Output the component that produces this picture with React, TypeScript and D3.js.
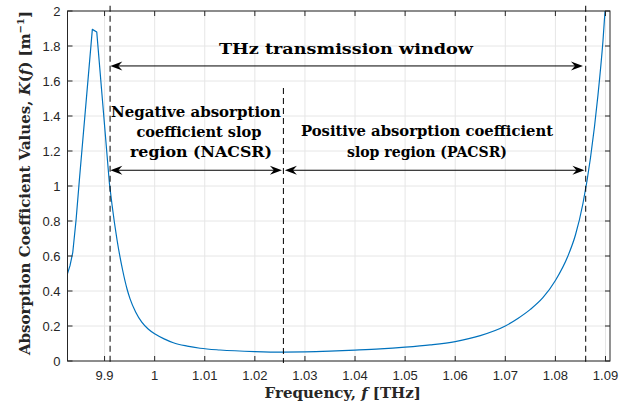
import React from "react";
import * as d3 from "d3";

// Frequency (THz) and absorption coefficient K(f) (1/m)
const freq = [0.98257, 0.9831, 0.98365, 0.98431, 0.98497, 0.98756, 0.98844, 0.99096, 0.9915, 0.9925, 0.9936, 0.9945, 0.99509, 0.9962, 0.99743, 0.9987, 1.00008, 1.002, 1.00373, 1.0065, 1.00906, 1.01305, 1.02, 1.0256, 1.03, 1.035, 1.04, 1.045, 1.05, 1.055, 1.06, 1.065, 1.07, 1.0725, 1.075, 1.0775, 1.08, 1.0825, 1.084, 1.0855, 1.087, 1.0885, 1.0895, 1.0905];
const kval = [0.497, 0.545, 0.62, 0.806, 1.034, 1.895, 1.88, 1.017, 0.89, 0.69, 0.52, 0.41, 0.355, 0.28, 0.222, 0.183, 0.154, 0.125, 0.104, 0.085, 0.073, 0.063, 0.054, 0.051, 0.052, 0.056, 0.062, 0.069, 0.079, 0.092, 0.111, 0.145, 0.2, 0.243, 0.295, 0.362, 0.46, 0.6, 0.72, 0.9, 1.16, 1.52, 1.83, 2.25];
const peakSplit = 7; // index where the coarse, linear peak part ends

const xTicks = [0.99, 1.0, 1.01, 1.02, 1.03, 1.04, 1.05, 1.06, 1.07, 1.08, 1.09];
const xTickLabels = ["9.9", "1", "1.01", "1.02", "1.03", "1.04", "1.05", "1.06", "1.07", "1.08", "1.09"];
const yTicks = [0, 0.2, 0.4, 0.6, 0.8, 1, 1.2, 1.4, 1.6, 1.8, 2];
const yTickLabels = ["0", "0.2", "0.4", "0.6", "0.8", "1", "1.2", "1.4", "1.6", "1.8", "2"];

const dashedAt = [0.9911, 1.0257, 1.08605];
const dashedTop = [2.03, 1.56, 2.03];
const arrowWindow = [0.99115, 1.0855, 1.686];
const arrowNeg = [0.99115, 1.0254, 1.09];
const arrowPos = [1.026, 1.0858, 1.09];

const W = 624, H = 410;
const L = 67.5, R = 610, T = 11, B = 361;
const SERIF = "'DejaVu Serif', serif";
const SANS = "'Liberation Sans', Arial, sans-serif";

function Arrow({ x1, x2, y }: { x1: number; x2: number; y: number }) {
  const head = (tip: number, dir: number) => {
    const len = 12, hw = 4.5, back = 8;
    return `M${tip},${y} L${tip + dir * len},${y - hw} L${tip + dir * back},${y} L${tip + dir * len},${y + hw} Z`;
  };
  return (
    <g>
      <line x1={x1 + 6} x2={x2 - 6} y1={y} y2={y} stroke="#000" strokeWidth={1} />
      <path d={head(x1, 1)} fill="#000" />
      <path d={head(x2, -1)} fill="#000" />
    </g>
  );
}

export default function App() {
  const x = d3.scaleLinear().domain([0.9826, 1.0909]).range([L, R]);
  const y = d3.scaleLinear().domain([0, 2]).range([B, T]);
  const data = freq.map((f, i) => [f, kval[i]] as [number, number]);
  const lineLin = d3.line<[number, number]>().x((d) => x(d[0])).y((d) => y(d[1]));
  const lineSmooth = d3.line<[number, number]>().x((d) => x(d[0])).y((d) => y(d[1])).curve(d3.curveMonotoneX);
  const tl = 5;

  const ann: [string, number, number, number][] = [
    ["THz transmission window", 346, 54, 254],
    ["Negative absorption", 196, 117, 170],
    ["coefficient slop", 199, 137, 125],
    ["region (NACSR)", 201, 157, 142],
    ["Positive absorption coefficient", 427, 136, 252],
    ["slop region (PACSR)", 427, 157, 160],
  ];

  return (
    <svg width={W} height={H} style={{ position: "absolute", left: 0, top: 0, background: "#fff" }}>
      <defs>
        <clipPath id="plotclip">
          <rect x={L} y={T} width={R - L} height={B - T} />
        </clipPath>
      </defs>
      <rect x={0} y={0} width={W} height={H} fill="#fff" />
      {xTicks.map((t) => (
        <line key={"gx" + t} x1={x(t)} x2={x(t)} y1={T} y2={B} stroke="#e6e6e6" strokeWidth={1} />
      ))}
      {yTicks.map((t) => (
        <line key={"gy" + t} x1={L} x2={R} y1={y(t)} y2={y(t)} stroke="#e6e6e6" strokeWidth={1} />
      ))}
      <g clipPath="url(#plotclip)" fill="none" stroke="#0072BD" strokeWidth={1.2} strokeLinejoin="round">
        <path d={lineLin(data.slice(0, peakSplit + 1)) || ""} />
        <path d={lineSmooth(data.slice(peakSplit)) || ""} />
      </g>
      <rect x={L} y={T} width={R - L} height={B - T} fill="none" stroke="#262626" strokeWidth={1} />
      {xTicks.map((t) => (
        <g key={"tx" + t}>
          <line x1={x(t)} x2={x(t)} y1={B} y2={B - tl} stroke="#262626" />
          <line x1={x(t)} x2={x(t)} y1={T} y2={T + tl} stroke="#262626" />
        </g>
      ))}
      {yTicks.map((t) => (
        <g key={"ty" + t}>
          <line x1={L} x2={L + tl} y1={y(t)} y2={y(t)} stroke="#262626" />
          <line x1={R} x2={R - tl} y1={y(t)} y2={y(t)} stroke="#262626" />
        </g>
      ))}
      {xTicks.map((t, i) => (
        <text key={"lx" + t} x={x(t)} y={B + 19} textAnchor="middle" fontFamily={SANS} fontSize={13} fill="#262626">
          {xTickLabels[i]}
        </text>
      ))}
      {yTicks.map((t, i) => (
        <text key={"ly" + t} x={L - 7} y={y(t) + 4.5} textAnchor="end" fontFamily={SANS} fontSize={13} fill="#262626">
          {yTickLabels[i]}
        </text>
      ))}
      {dashedAt.map((f, i) => (
        <line key={"d" + i} x1={x(f)} x2={x(f)} y1={y(dashedTop[i])} y2={B + 2} stroke="#000" strokeWidth={1} strokeDasharray="6,4" />
      ))}
      <Arrow x1={x(arrowWindow[0])} x2={x(arrowWindow[1])} y={y(arrowWindow[2])} />
      <Arrow x1={x(arrowNeg[0])} x2={x(arrowNeg[1])} y={y(arrowNeg[2])} />
      <Arrow x1={x(arrowPos[0])} x2={x(arrowPos[1])} y={y(arrowPos[2])} />
      <g fontFamily={SERIF} fontWeight="bold" fontSize={15} fill="#000" textAnchor="middle">
        {ann.map(([s, cx, by, w]) => (
          <text key={s} x={cx} y={by} textLength={w} lengthAdjust="spacingAndGlyphs">{s}</text>
        ))}
      </g>
      <text x={(L + R) / 2 + 4} y={398} textAnchor="middle" fontFamily={SERIF} fontWeight="bold" fontSize={15} fill="#262626">
        Frequency, <tspan fontStyle="italic">f</tspan> [THz]
      </text>
      <text transform={`translate(30,${183}) rotate(-90)`} textAnchor="middle" fontFamily={SERIF} fontWeight="bold" fontSize={15} fill="#262626">
        Absorption Coefficient Values, <tspan fontStyle="italic">K</tspan>(<tspan fontStyle="italic">f</tspan>) [m<tspan dy={-6} fontSize={10}>−1</tspan><tspan dy={6}>]</tspan>
      </text>
    </svg>
  );
}
